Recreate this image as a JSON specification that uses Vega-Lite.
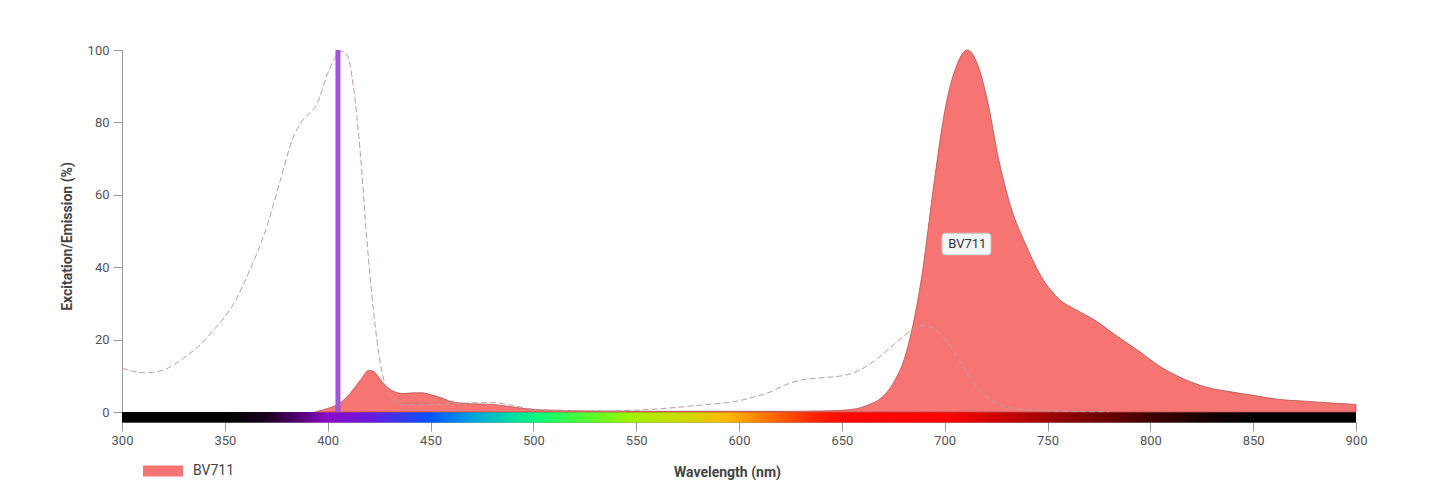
{
  "$schema": "https://vega.github.io/schema/vega-lite/v6.json",
  "autosize": "none",
  "width": 1234,
  "height": 372,
  "padding": {"left": 122, "top": 50, "right": 84, "bottom": 79},
  "background": "white",
  "config": {
    "view": {"stroke": null},
    "font": "Roboto",
    "axis": {"grid": false, "labelFont": "Roboto", "titleFont": "Roboto", "labelColor": "#555", "titleColor": "#444", "labelFontSize": 13, "titleFontSize": 14, "titleFontWeight": "bold", "domainColor": "#999", "tickColor": "#999"}
  },
  "datasets": {
    "excitation": [
      {"nm": 300, "v": 12.1}, {"nm": 305, "v": 11.3}, {"nm": 311, "v": 10.8}, {"nm": 320, "v": 11.6},
      {"nm": 330, "v": 14.9}, {"nm": 338, "v": 18.6}, {"nm": 346, "v": 23.6}, {"nm": 354, "v": 29.6},
      {"nm": 362, "v": 39}, {"nm": 370, "v": 50.5}, {"nm": 377, "v": 64}, {"nm": 383, "v": 75.5},
      {"nm": 388, "v": 80.7}, {"nm": 395, "v": 85.3}, {"nm": 400, "v": 93.5}, {"nm": 404, "v": 98.2},
      {"nm": 407, "v": 99.7}, {"nm": 409.5, "v": 98.5}, {"nm": 412.5, "v": 90}, {"nm": 416, "v": 70.6},
      {"nm": 419, "v": 48}, {"nm": 422.4, "v": 27.3}, {"nm": 425.6, "v": 13.5}, {"nm": 428.8, "v": 6.2},
      {"nm": 433.7, "v": 2.5}, {"nm": 438.6, "v": 2.0}, {"nm": 450, "v": 2.0}, {"nm": 461, "v": 2.3},
      {"nm": 469, "v": 2.5}, {"nm": 480, "v": 2.6}, {"nm": 490, "v": 1.8}, {"nm": 498, "v": 0.9},
      {"nm": 510, "v": 0.5}, {"nm": 534, "v": 0.3}, {"nm": 550, "v": 0.5}, {"nm": 566, "v": 1.1},
      {"nm": 583, "v": 2.0}, {"nm": 599, "v": 3.0}, {"nm": 607, "v": 4.1}, {"nm": 615, "v": 5.5},
      {"nm": 623, "v": 7.6}, {"nm": 631, "v": 8.9}, {"nm": 639, "v": 9.4}, {"nm": 650, "v": 10.0},
      {"nm": 656, "v": 10.9}, {"nm": 664, "v": 13.4}, {"nm": 672, "v": 17}, {"nm": 677, "v": 19.5},
      {"nm": 684, "v": 22.6}, {"nm": 689, "v": 23.9}, {"nm": 695, "v": 23}, {"nm": 700.5, "v": 19.9},
      {"nm": 708, "v": 13.4}, {"nm": 715.5, "v": 6.9}, {"nm": 723, "v": 3.2}, {"nm": 732, "v": 1.1},
      {"nm": 745, "v": 0.5}, {"nm": 760, "v": 0.2}, {"nm": 780, "v": 0.1}
    ],
    "emission": [
      {"nm": 394, "v": 0}, {"nm": 397, "v": 0.5}, {"nm": 400, "v": 1.0}, {"nm": 403, "v": 1.6},
      {"nm": 406, "v": 2.5}, {"nm": 411, "v": 5.2}, {"nm": 416, "v": 8.9}, {"nm": 420, "v": 11.5},
      {"nm": 422, "v": 11.3}, {"nm": 427, "v": 8}, {"nm": 432, "v": 5.7}, {"nm": 437, "v": 5.1},
      {"nm": 442, "v": 5.3}, {"nm": 446, "v": 5.3}, {"nm": 450, "v": 4.8}, {"nm": 455, "v": 4.0},
      {"nm": 460, "v": 2.9}, {"nm": 469, "v": 2.3}, {"nm": 480, "v": 2.1}, {"nm": 490, "v": 1.4},
      {"nm": 500, "v": 0.7}, {"nm": 510, "v": 0.5}, {"nm": 525, "v": 0.3}, {"nm": 550, "v": 0.2},
      {"nm": 590, "v": 0.2}, {"nm": 625, "v": 0.2}, {"nm": 640, "v": 0.3}, {"nm": 650, "v": 0.5},
      {"nm": 657, "v": 0.9}, {"nm": 663, "v": 2.0}, {"nm": 668, "v": 3.4}, {"nm": 672, "v": 5.5},
      {"nm": 676, "v": 9.0}, {"nm": 680, "v": 14}, {"nm": 684, "v": 22.5}, {"nm": 689, "v": 38},
      {"nm": 695, "v": 64}, {"nm": 700, "v": 83}, {"nm": 706, "v": 96}, {"nm": 711, "v": 100},
      {"nm": 716, "v": 96}, {"nm": 721, "v": 85.5}, {"nm": 726, "v": 70.5}, {"nm": 732, "v": 57},
      {"nm": 740, "v": 45.5}, {"nm": 747, "v": 37.4}, {"nm": 756, "v": 31}, {"nm": 764, "v": 28.2},
      {"nm": 773, "v": 25.4}, {"nm": 782, "v": 21.7}, {"nm": 794, "v": 17}, {"nm": 805, "v": 12.5},
      {"nm": 816, "v": 9.2}, {"nm": 827, "v": 6.9}, {"nm": 840, "v": 5.5}, {"nm": 850, "v": 4.6},
      {"nm": 862, "v": 3.5}, {"nm": 875, "v": 3.0}, {"nm": 888, "v": 2.5}, {"nm": 900, "v": 2.1}
    ],
    "dye": [{"name": "BV711", "peak": 711, "labelY": 46.4, "x0": 698.7, "x1": 722.5, "y0": 43.4, "y1": 49.4}],
    "laser": [{"nm": 405, "top": 100}],
    "spectrum": [{"from": 300, "to": 900, "top": 0, "bottom": -2.9}]
  },
  "layer": [
    {
      "data": {"name": "spectrum"},
      "mark": {
        "type": "rect",
        "color": {
          "gradient": "linear", "x1": 0, "x2": 1, "y1": 0, "y2": 0,
          "stops": [
            {"offset": 0, "color": "#000000"},
            {"offset": 0.0833, "color": "#000000"},
            {"offset": 0.1167, "color": "#1a0020"},
            {"offset": 0.1417, "color": "#500070"},
            {"offset": 0.1667, "color": "#8a0ccc"},
            {"offset": 0.2, "color": "#6a18dc"},
            {"offset": 0.2333, "color": "#2a40f0"},
            {"offset": 0.25, "color": "#0055ff"},
            {"offset": 0.2833, "color": "#00a0e0"},
            {"offset": 0.3167, "color": "#00e0a0"},
            {"offset": 0.3417, "color": "#10ff70"},
            {"offset": 0.375, "color": "#50ff30"},
            {"offset": 0.4167, "color": "#a8f000"},
            {"offset": 0.4583, "color": "#d0d800"},
            {"offset": 0.4917, "color": "#ffb800"},
            {"offset": 0.525, "color": "#ff7000"},
            {"offset": 0.5583, "color": "#ff2800"},
            {"offset": 0.5833, "color": "#ff0800"},
            {"offset": 0.6667, "color": "#ff0000"},
            {"offset": 0.7083, "color": "#d00000"},
            {"offset": 0.75, "color": "#a00000"},
            {"offset": 0.7917, "color": "#700000"},
            {"offset": 0.8333, "color": "#400000"},
            {"offset": 0.875, "color": "#1a0000"},
            {"offset": 0.9167, "color": "#000000"},
            {"offset": 1, "color": "#000000"}
          ]
        }
      },
      "encoding": {
        "x": {"field": "from", "type": "quantitative"},
        "x2": {"field": "to"},
        "y": {"field": "top", "type": "quantitative"},
        "y2": {"field": "bottom"}
      }
    },
    {
      "data": {"name": "emission"},
      "mark": {"type": "area", "interpolate": "monotone", "stroke": "#b3524f", "strokeWidth": 0.8, "fillOpacity": 1},
      "encoding": {
        "x": {
          "field": "nm", "type": "quantitative",
          "scale": {"domain": [300, 900], "nice": false, "zero": false, "padding": 0},
          "axis": {
            "title": "Wavelength (nm)", "values": [300, 350, 400, 450, 500, 550, 600, 650, 700, 750, 800, 850, 900],
            "tickSize": 9, "labelPadding": 3, "labelFlush": false,
            "titleX": 605, "titleY": 50, "titleBaseline": "middle"
          }
        },
        "y": {
          "field": "v", "type": "quantitative",
          "scale": {"domain": [-2.76, 100], "nice": false, "zero": false},
          "axis": {"title": "Excitation/Emission (%)", "values": [0, 20, 40, 60, 80, 100], "tickSize": 9, "labelPadding": 4, "titlePadding": 13}
        },
        "color": {
          "datum": "BV711", "type": "nominal",
          "scale": {"domain": ["BV711"], "range": ["#f67471"]},
          "legend": {
            "title": null, "orient": "none", "legendX": 21, "legendY": 401,
            "symbolType": "M-1,-0.28H1V0.28H-1Z", "symbolSize": 1600, "symbolStrokeWidth": 0,
            "symbolOpacity": 1, "labelFont": "Roboto", "labelFontSize": 14, "labelColor": "#444", "labelOffset": 10
          }
        }
      }
    },
    {
      "data": {"name": "excitation"},
      "mark": {"type": "line", "interpolate": "monotone", "color": "#bf9aa2", "strokeWidth": 1, "strokeDash": [6, 3]},
      "encoding": {
        "x": {"field": "nm", "type": "quantitative"},
        "y": {"field": "v", "type": "quantitative"}
      }
    },
    {
      "data": {"name": "laser"},
      "mark": {"type": "bar", "color": "#a056d6", "width": 5},
      "encoding": {
        "x": {"field": "nm", "type": "quantitative"},
        "y": {"field": "top", "type": "quantitative"}
      }
    },
    {
      "data": {"name": "dye"},
      "mark": {"type": "rect", "fill": "#f4f6f8", "stroke": "#c4c4c4", "strokeWidth": 1, "cornerRadius": 3},
      "encoding": {
        "x": {"field": "x0", "type": "quantitative"},
        "x2": {"field": "x1"},
        "y": {"field": "y0", "type": "quantitative"},
        "y2": {"field": "y1"}
      }
    },
    {
      "data": {"name": "dye"},
      "mark": {"type": "text", "font": "Roboto", "fontSize": 13, "color": "#333", "baseline": "middle", "align": "center"},
      "encoding": {
        "x": {"field": "peak", "type": "quantitative"},
        "y": {"field": "labelY", "type": "quantitative"},
        "text": {"field": "name"}
      }
    }
  ]
}
